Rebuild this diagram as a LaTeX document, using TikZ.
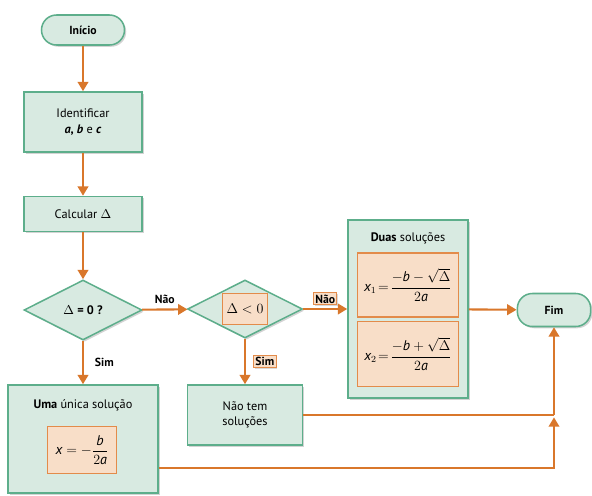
\documentclass[tikz,border=0pt]{standalone}
\usepackage{amsmath}
\usepackage{fontspec}
\setmainfont{PT Sans}
\usetikzlibrary{shapes.geometric,positioning,arrows.meta,shadows}

\definecolor{boxgreen}{HTML}{D8EAE1}
\definecolor{edgegreen}{HTML}{5DAE8B}
\definecolor{arrorange}{HTML}{D9772B}
\definecolor{innerfill}{HTML}{F8DEC8}
\definecolor{inneredge}{HTML}{E38B4A}

\tikzset{
  greenbox/.style={draw=edgegreen,line width=1.3pt,fill=boxgreen,align=center,
    drop shadow={shadow xshift=1.5pt,shadow yshift=-1.5pt,opacity=0.35}},
  terminal/.style={greenbox,rounded corners=4.5mm,font=\bfseries},
  decision/.style={greenbox,diamond,inner sep=0pt},
  innerbox/.style={draw=inneredge,line width=1.1pt,fill=innerfill,align=center},
  formula/.style={innerbox,font=\fontsize{12}{14}\selectfont},
  tagbox/.style={innerbox,font=\bfseries,inner sep=1.5pt,line width=0.9pt,
    drop shadow={shadow xshift=1pt,shadow yshift=-1pt,opacity=0.3}},
  flow/.style={draw=arrorange,line width=1.8pt,-{Triangle[width=9pt,length=8pt]}},
  line/.style={draw=arrorange,line width=1.8pt}
}

\begin{document}
\begin{tikzpicture}[x=0.03cm,y=-0.03cm,font=\fontsize{10.5}{13}\selectfont]
  \useasboundingbox (0,0) rectangle (592,495);

  \node[terminal,minimum width=2.49cm,minimum height=0.9cm] (inicio) at (83,30) {Início};
  \node[greenbox,minimum width=3.54cm,minimum height=1.8cm] (ident) at (83,122)
    {Identificar\\ \textbf{\textit{a}, \textit{b}} e \textbf{\textit{c}}};
  \node[greenbox,minimum width=3.54cm,minimum height=1.05cm] (calc) at (83,214) {Calcular $\Delta$};
  \node[decision,minimum width=3.54cm,minimum height=1.8cm] (delta0) at (83,310) {$\Delta$ \textbf{= 0 ?}};
  \node[decision,minimum width=3.45cm,minimum height=1.74cm] (deltaneg) at (245,309) {};
  \node[formula,minimum width=1.35cm,minimum height=0.93cm] (deltaneg-in) at (245,309) {$\Delta < 0$};

  \node[greenbox,minimum width=3.6cm,minimum height=5.34cm] (duas) at (408,309) {};
  \node (duas-title) at (408,238) {\textbf{Duas} soluções};
  \node[formula,minimum width=3.03cm,minimum height=1.92cm] (x1) at (408,285)
    {$\textit{x}_1\!=\!\dfrac{-\textit{b}-\sqrt{\Delta}}{2\textit{a}}$};
  \node[formula,minimum width=3.03cm,minimum height=1.95cm] (x2) at (408,354)
    {$\textit{x}_2\!=\!\dfrac{-\textit{b}+\sqrt{\Delta}}{2\textit{a}}$};

  \node[terminal,minimum width=2.2cm,minimum height=0.99cm] (fim) at (554,310) {Fim};

  \node[greenbox,minimum width=4.5cm,minimum height=3.24cm] (uma) at (83,439) {};
  \node (uma-title) at (83,405) {\textbf{Uma} única solução};
  \node[formula,minimum width=2.07cm,minimum height=1.41cm] (xunica) at (82,450)
    {$\textit{x}=-\dfrac{\textit{b}}{2\textit{a}}$};

  \node[greenbox,minimum width=3.45cm,minimum height=1.8cm] (naotem) at (245,415) {Não tem\\soluções};

  % connectors
  \foreach \a/\b in {inicio/ident,ident/calc,calc/delta0,duas/fim}
    \draw[flow] (\a) -- (\b);
  \draw[flow] (delta0) -- node[above=1pt,font=\bfseries] {Não} (deltaneg);
  \draw[flow] (delta0) -- node[right=6pt,font=\bfseries] {Sim} (uma);
  \draw[flow] (deltaneg) -- node[tagbox,above=3pt] {Não} (duas);
  \draw[flow] (deltaneg) -- node[tagbox,right=7pt] {Sim} (naotem);

  \coordinate (join) at (fim |- naotem);
  \coordinate (umaout) at ([yshift=-0.87cm]uma.east);
  \draw[line] (naotem) -- (join);
  \draw[flow] (join) -- (fim);
  \draw[flow] (umaout) -| ([yshift=-2pt]join);
\end{tikzpicture}
\end{document}
